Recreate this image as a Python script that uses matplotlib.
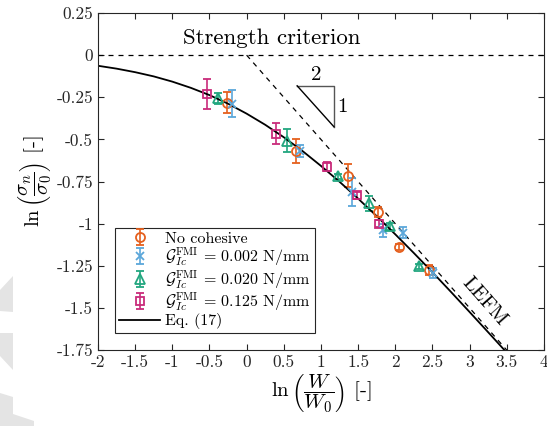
import matplotlib
matplotlib.use("Agg")
import matplotlib.pyplot as plt
from matplotlib.patches import Polygon

plt.rcParams['font.family'] = 'cmr10'
plt.rcParams['mathtext.fontset'] = 'cm'
plt.rcParams['axes.unicode_minus'] = False
plt.rcParams['axes.formatter.use_mathtext'] = True

# FE results: ln(W/W0), ln(sigma_n/sigma_0) and error half-widths
x_nocoh = [-0.26, 0.66, 1.37, 1.77, 2.05, 2.46]
y_nocoh = [-0.281, -0.568, -0.716, -0.930, -1.138, -1.276]
e_nocoh = [0.062, 0.072, 0.069, 0.030, 0.015, 0.030]

x_g002 = [-0.20, 0.72, 1.42, 1.83, 2.11, 2.51]
y_g002 = [-0.287, -0.570, -0.811, -1.039, -1.054, -1.290]
e_g002 = [0.078, 0.037, 0.084, 0.038, 0.033, 0.030]

x_g020 = [-0.38, 0.54, 1.23, 1.64, 1.93, 2.32]
y_g020 = [-0.257, -0.508, -0.718, -0.880, -1.015, -1.252]
e_g020 = [0.030, 0.069, 0.015, 0.045, 0.020, 0.015]

x_g125 = [-0.53, 0.39, 1.08, 1.49, 1.78]
y_g125 = [-0.231, -0.465, -0.661, -0.831, -0.999]
e_g125 = [0.089, 0.061, 0.025, 0.020, 0.020]

# Eq. (17) curve
x_eq = [-2.0, -1.75, -1.5, -1.25, -1.0, -0.75, -0.5, -0.25, 0.0, 0.25, 0.5,
        0.75, 1.0, 1.25, 1.5, 1.75, 2.0, 2.25, 2.5, 2.75, 3.0, 3.25, 3.5]
y_eq = [-0.063, -0.080, -0.101, -0.126, -0.157, -0.194, -0.237, -0.288,
        -0.347, -0.413, -0.487, -0.568, -0.657, -0.751, -0.851, -0.955,
        -1.063, -1.174, -1.288, -1.405, -1.524, -1.644, -1.765]

# asymptotes
x_str = [-2.0, 4.0]
y_str = [0.0, 0.0]
x_lefm = [0.0, 3.5]
y_lefm = [0.0, -1.75]

# slope triangle
tri_x = [0.68, 1.175, 1.175]
tri_y = [-0.182, -0.182, -0.425]

xticks = [-2, -1.5, -1, -0.5, 0, 0.5, 1, 1.5, 2, 2.5, 3, 3.5, 4]
xticklabels = ['-2', '-1.5', '-1', '-0.5', '0', '0.5', '1', '1.5', '2', '2.5', '3', '3.5', '4']
yticks = [0.25, 0, -0.25, -0.5, -0.75, -1, -1.25, -1.5, -1.75]
yticklabels = ['0.25', '0', '-0.25', '-0.5', '-0.75', '-1', '-1.25', '-1.5', '-1.75']

c_orange = '#E5601E'
c_blue = '#5BA7DA'
c_green = '#22A67F'
c_pink = '#C92B7B'

fig = plt.figure(figsize=(5.47, 4.26), dpi=100)
ax = fig.add_axes([0.179, 0.178, 0.8155, 0.7915])

# faint grey shapes at the lower-left margin
W, H = 547.0, 426.0
shapes = [
    [(0, 290), (13, 276), (13, 312), (0, 311)],
    [(0, 333), (13, 333), (13, 370), (0, 356)],
    [(0, 393), (13, 397), (13, 414), (34, 421), (34, 426), (0, 426)],
]
for s in shapes:
    pts = [(px / W, 1 - py / H) for px, py in s]
    fig.patches.append(Polygon(pts, closed=True, transform=fig.transFigure,
                               facecolor='#e4e4e4', edgecolor='none', zorder=0))

ax.plot(x_str, y_str, color='k', ls=(0, (4, 4)), lw=0.9)
ax.plot(x_lefm, y_lefm, color='k', ls=(0, (4, 4)), lw=0.9)

eb = dict(capsize=3, elinewidth=1.2, capthick=1.2,
          markeredgewidth=1.3, ls='none', markerfacecolor='none')
h1 = ax.errorbar(x_nocoh, y_nocoh, yerr=e_nocoh, marker='o', ms=6.5, color=c_orange,
                 label='No cohesive', **eb)
h2 = ax.errorbar(x_g002, y_g002, yerr=e_g002, marker='x', ms=6, color=c_blue,
                 label=r'$\mathcal{G}_{Ic}^{\mathrm{FMI}}$ = 0.002 N/mm', **eb)
h3 = ax.errorbar(x_g020, y_g020, yerr=e_g020, marker='^', ms=6.5, color=c_green,
                 label=r'$\mathcal{G}_{Ic}^{\mathrm{FMI}}$ = 0.020 N/mm', **eb)
h4 = ax.errorbar(x_g125, y_g125, yerr=e_g125, marker='s', ms=5.5, color=c_pink,
                 label=r'$\mathcal{G}_{Ic}^{\mathrm{FMI}}$ = 0.125 N/mm', **eb)
h5, = ax.plot(x_eq, y_eq, color='k', lw=1.3, label='Eq. (17)')

ax.plot(tri_x, tri_y, color='#555555', lw=1.0)
ax.plot([tri_x[0], tri_x[2]], [tri_y[0], tri_y[2]], color='k', lw=1.0)
ax.text(0.93, -0.12, '2', fontsize=15, ha='center', va='center')
ax.text(1.29, -0.31, '1', fontsize=15, ha='center', va='center')

ax.text(0.34, 0.10, 'Strength criterion', fontsize=16.5, ha='center', va='center')
ax.text(3.19, -1.46, 'LEFM', fontsize=14.5, ha='center', va='center', rotation=-48.6)

ax.set_xlim(-2, 4)
ax.set_ylim(-1.75, 0.25)
ax.set_xticks(xticks)
ax.set_xticklabels(xticklabels)
ax.set_yticks(yticks)
ax.set_yticklabels(yticklabels)
ax.tick_params(direction='in', top=True, right=True, length=4, width=0.8,
               labelsize=12.5, colors='#262626')
for sp in ax.spines.values():
    sp.set_color('#262626')
    sp.set_linewidth(0.8)

ax.set_xlabel(r'$\ln\left(\dfrac{W}{W_0}\right)$ [-]', fontsize=15, labelpad=2)
ax.set_ylabel(r'$\ln\left(\dfrac{\sigma_n}{\sigma_0}\right)$ [-]', fontsize=15, labelpad=2)

leg = ax.legend(handles=[h1, h2, h3, h4, h5], loc='lower left',
                bbox_to_anchor=(0.038, 0.05), borderaxespad=0,
                fontsize=11.5, fancybox=False, framealpha=1, edgecolor='#262626',
                handlelength=2.6, labelspacing=0.0, borderpad=0.25, handletextpad=0.3)
leg.get_frame().set_linewidth(0.8)

fig.savefig('out.png', dpi=100)
